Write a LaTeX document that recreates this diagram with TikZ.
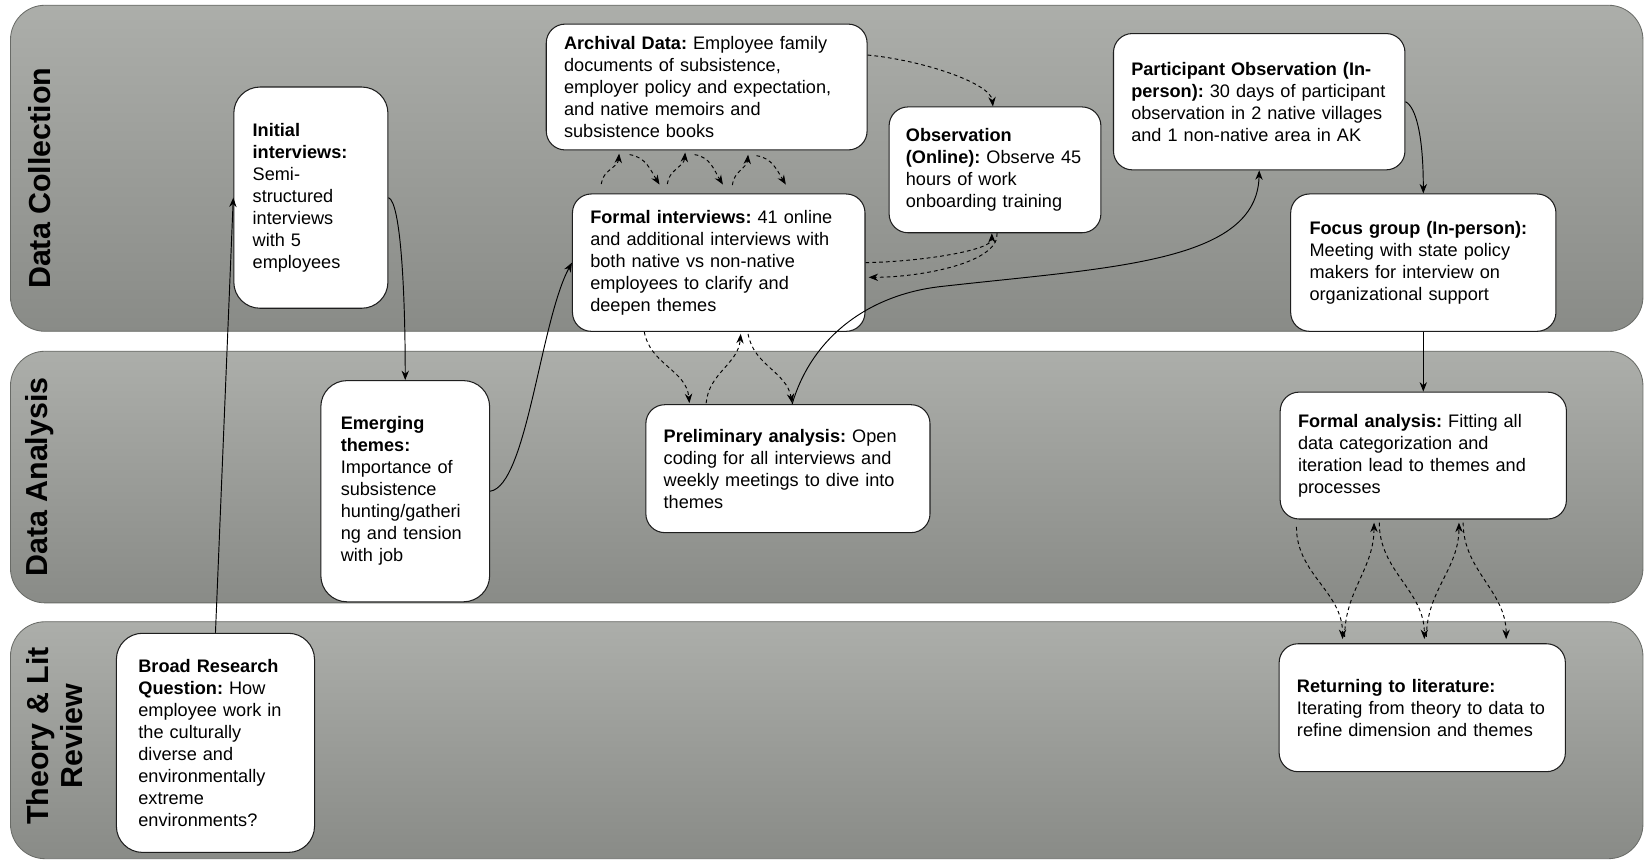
\documentclass[tikz,border=0pt]{standalone}
\usepackage{fontspec}
\setmainfont{Liberation Sans}
\usetikzlibrary{arrows.meta,calc}
\definecolor{lanetop}{RGB}{172,174,170}
\definecolor{lanebot}{RGB}{137,139,135}
\definecolor{laneline}{RGB}{105,107,103}
\definecolor{boxline}{RGB}{30,30,30}
\frenchspacing
\hyphenpenalty=10000
\exhyphenpenalty=10000
\begin{document}
\begin{tikzpicture}[x=1pt,y=1pt,
  lane/.style={draw=laneline, line width=0.8pt, rounded corners=33pt, top color=lanetop, bottom color=lanebot},
  lanetitle/.style={rotate=90, font=\fontsize{29}{32}\selectfont\bfseries, align=center, inner sep=0pt},
  box/.style={draw=boxline, line width=1pt, fill=white, rounded corners=18pt, align=left, inner xsep=17pt, inner ysep=0pt, font=\fontsize{17.3}{21}\selectfont},
  tallbox/.style={box, rounded corners=25pt},
  conn/.style={line width=0.9pt, draw=black, -{Stealth[length=9pt,width=7pt]}},
  dconn/.style={conn, dash pattern=on 3.5pt off 3pt}
]
\useasboundingbox (0,0) rectangle (1568,-821);

% swim lanes
\draw[lane] (10,-5) rectangle (1567,-316);
\draw[lane] (10,-335) rectangle (1567,-575);
\draw[lane] (10,-593) rectangle (1567,-819);

\node[lanetitle] (t1) at (38,-170) {Data Collection};
\node[lanetitle] (t2) at (38,-455) {Data Analysis};
\node[lanetitle] (t3) at (52,-702) {Theory \& Lit\\Review};

% boxes
\node[tallbox, minimum width=147pt, minimum height=211pt, text width=111pt, inner xsep=18pt] (init) at (296.5,-188.5)
  {\textbf{Initial}\\\textbf{interviews:}\\Semi-\\structured\\interviews\\with 5\\employees};
\node[box, minimum width=306pt, minimum height=120pt, text width=272pt] (arch) at (674,-83)
  {\textbf{Archival Data:} Employee family\\documents of subsistence,\\employer policy and expectation,\\and native memoirs and\\subsistence books};
\node[box, minimum width=279pt, minimum height=131pt, text width=245pt] (fi) at (685.5,-250.5)
  {\textbf{Formal interviews:} 41 online\\and additional interviews with\\both native vs non-native\\employees to clarify and\\deepen themes};
\node[box, minimum width=202pt, minimum height=120pt, text width=170pt, inner xsep=16pt] (obs) at (949,-162)
  {\textbf{Observation}\\\textbf{(Online):} Observe 45\\hours of work\\onboarding training};
\node[box, minimum width=278pt, minimum height=130pt, text width=244pt] (po) at (1201,-97)
  {\textbf{Participant Observation (In-}\\\textbf{person):} 30 days of participant\\observation in 2 native villages\\and 1 non-native area in AK};
\node[box, minimum width=253pt, minimum height=131pt, text width=217pt, inner xsep=18pt] (fg) at (1357.5,-250.5)
  {\textbf{Focus group (In-person):}\\Meeting with state policy\\makers for interview on\\organizational support};
\node[tallbox, minimum width=161pt, minimum height=211pt, text width=123pt, inner xsep=19pt] (em) at (386.5,-468.5)
  {\textbf{Emerging}\\\textbf{themes:}\\Importance of\\subsistence\\hunting/gatheri\\ng and tension\\with job};
\node[box, minimum width=271pt, minimum height=122pt, text width=237pt] (pa) at (751.5,-447)
  {\textbf{Preliminary analysis:} Open\\coding for all interviews and\\weekly meetings to dive into\\themes};
\node[box, minimum width=273pt, minimum height=121pt, text width=239pt] (fa) at (1357.5,-434.5)
  {\textbf{Formal analysis:} Fitting all\\data categorization and\\iteration lead to themes and\\processes};
\node[tallbox, minimum width=189pt, minimum height=209pt, text width=147pt, inner xsep=21pt] (brq) at (205.5,-708.5)
  {\textbf{Broad Research}\\\textbf{Question:} How\\employee work in\\the culturally\\diverse and\\environmentally\\extreme\\environments?};
\node[box, minimum width=273pt, minimum height=122pt, text width=239pt] (rl) at (1356.5,-675)
  {\textbf{Returning to literature:}\\Iterating from theory to data to\\refine dimension and themes};

% solid connectors
\draw[conn] (brq.north) -- (init.west);
\draw[conn] (init.east) .. controls +(12,-4) and +(0,80) .. (em.north);
\draw[conn] (em.east) .. controls +(35,5) and +(-30,-55) .. (fi.west);
\coordinate (wp) at (900,-273);
\draw[conn] ($(pa.north)+(4,0)$) .. controls +(19,65) and +(-70,-7) .. (wp) .. controls +(160,18) and +(-2,-88) .. (po.south);
\draw[conn] (po.east) .. controls +(10,-5) and +(0,55) .. (fg.north);
\draw[conn] (fg.south) -- (fa.north);

% dashed connectors around observation
\draw[dconn] ($(arch.north east)+(0,-30)$) .. controls +(53,-5) and +(-2,22) .. ($(obs.north)+(-2,0)$);
\draw[dconn] (fi.east) .. controls +(55,1) and +(0,-16) .. ($(obs.south)+(-3,0)$);
\draw[dconn] ($(obs.south)+(2,0)$) .. controls +(2,-28) and +(50,0) .. ($(fi.east)+(3,-14)$);

% archival <-> formal interviews
\coordinate (u1s) at ($(arch.south west)+(53,-32)$);
\coordinate (u1t) at ($(arch.south west)+(70,-3)$);
\coordinate (d1s) at ($(arch.south west)+(80,-4)$);
\coordinate (d1t) at ($(arch.south west)+(108.5,-32.5)$);
\coordinate (u2s) at ($(arch.south west)+(116,-32)$);
\coordinate (u2t) at ($(arch.south west)+(133,-2)$);
\coordinate (d2s) at ($(arch.south west)+(142,-4)$);
\coordinate (d2t) at ($(arch.south west)+(169,-32.5)$);
\coordinate (u3s) at ($(arch.south west)+(178,-33)$);
\coordinate (u3t) at ($(arch.south west)+(193,-4)$);
\coordinate (d3s) at ($(arch.south west)+(201,-5)$);
\coordinate (d3t) at ($(arch.south west)+(229,-32.5)$);
\draw[dconn] (u1s) to[out=85,in=-95] (u1t);
\draw[dconn] (d1s) to[out=-8,in=122] (d1t);
\draw[dconn] (u2s) to[out=85,in=-95] (u2t);
\draw[dconn] (d2s) to[out=-8,in=122] (d2t);
\draw[dconn] (u3s) to[out=85,in=-95] (u3t);
\draw[dconn] (d3s) to[out=-8,in=122] (d3t);

% formal interviews <-> preliminary analysis
\draw[dconn] ($(fi.south west)+(69,0)$) to[out=-80,in=95] ($(pa.north west)+(42,1)$);
\draw[dconn] ($(pa.north west)+(58,1)$) to[out=85,in=-95] ($(fi.south west)+(161,-2)$);
\draw[dconn] ($(fi.south west)+(168,-2)$) to[out=-80,in=100] ($(pa.north west)+(140,1)$);

% formal analysis <-> returning to literature
\draw[dconn] ($(fa.south west)+(16,-7)$) to[out=-90,in=90] ($(rl.north west)+(61,4)$);
\draw[dconn] ($(rl.north west)+(63,6)$) to[out=90,in=-90] ($(fa.south west)+(90,-3)$);
\draw[dconn] ($(fa.south west)+(95,-3)$) to[out=-90,in=90] ($(rl.north west)+(139,4)$);
\draw[dconn] ($(rl.north west)+(141,6)$) to[out=90,in=-90] ($(fa.south west)+(171,-3)$);
\draw[dconn] ($(fa.south west)+(175,-3)$) to[out=-90,in=90] ($(rl.north west)+(217,4)$);
\end{tikzpicture}
\end{document}
